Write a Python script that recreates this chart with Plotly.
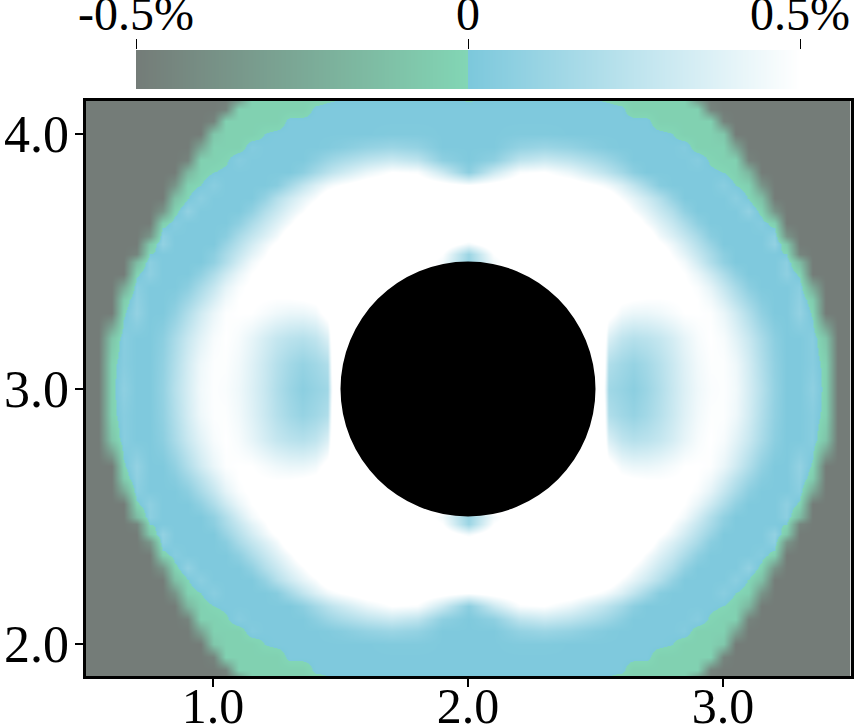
import plotly.graph_objects as go

# offsets from the centre of the ring, one quadrant (picture is mirrored both ways)
dx = [0, .1, .2, .3, .4, .5, .53, .55, .6, .65, .7, .75, .8, .85, .9, .95, 1.0, 1.05, 1.1, 1.15, 1.2, 1.25, 1.3, 1.35, 1.4, 1.45, 1.5]
dy = [0, .1, .2, .3, .35, .4, .45, .5, .53, .57, .6, .65, .7, .75, .8, .85, .9, .95, 1.0, 1.05, 1.1, 1.15]

# percent deviation, one list per dy
row_000 = [.6, .6, .6, .6, .6, .6, .55, .14, .1, .06, .12, .2, .29, .37, .44, .48, .49, .45, .34, .22, .09, .012, .012, .07, -.03, -.5, -.5]
row_010 = [.6, .6, .6, .6, .6, .6, .6, .2, .14, .1, .15, .22, .3, .38, .45, .49, .49, .44, .33, .2, .08, .012, .012, .045, -.03, -.5, -.5]
row_020 = [.6, .6, .6, .6, .6, .6, .6, .36, .26, .22, .24, .28, .34, .41, .47, .5, .47, .39, .29, .17, .06, .012, .012, .047, -.1, -.5, -.5]
row_030 = [.6, .6, .6, .6, .6, .6, .6, .55, .45, .42, .42, .44, .47, .5, .5, .49, .42, .32, .2, .08, .012, .012, .09, -.015, -.5, -.5, -.5]
row_035 = [.6, .6, .6, .6, .6, .6, .6, .58, .52, .5, .49, .49, .5, .51, .5, .45, .35, .24, .13, .04, .012, .012, .076, -.06, -.5, -.5, -.5]
row_040 = [.6, .6, .6, .6, .6, .6, .6, .6, .6, .58, .56, .55, .55, .52, .48, .4, .28, .17, .06, .012, .012, .012, .055, -.25, -.5, -.5, -.5]
row_045 = [.6, .6, .6, .6, .6, .6, .6, .6, .6, .6, .6, .6, .55, .5, .42, .31, .19, .08, .012, .012, .012, .07, -.02, -.5, -.5, -.5, -.5]
row_050 = [.1, .45, .6, .6, .6, .6, .6, .6, .6, .6, .6, .6, .52, .45, .33, .2, .08, .012, .012, .012, .012, .064, -.15, -.5, -.5, -.5, -.5]
row_053 = [.12, .5, .6, .6, .6, .6, .6, .6, .6, .6, .6, .6, .48, .39, .28, .17, .06, .012, .012, .012, .012, .001, -.45, -.5, -.5, -.5, -.5]
row_057 = [.45, .6, .6, .6, .6, .6, .6, .6, .6, .6, .6, .52, .43, .33, .22, .11, .012, .012, .012, .012, .087, -.08, -.5, -.5, -.5, -.5, -.5]
row_060 = [.6, .6, .6, .6, .6, .6, .6, .6, .6, .6, .6, .45, .36, .27, .17, .05, .012, .012, .012, .012, .069, -.364, -.5, -.5, -.5, -.5, -.5]
row_065 = [.6, .6, .6, .6, .6, .6, .6, .6, .6, .6, .47, .37, .28, .18, .07, .012, .012, .012, .012, .038, -.041, -.5, -.5, -.5, -.5, -.5, -.5]
row_070 = [.6, .6, .6, .6, .6, .6, .6, .6, .6, .48, .39, .29, .2, .08, .012, .012, .012, .012, .085, -.03, -.364, -.5, -.5, -.5, -.5, -.5, -.5]
row_075 = [.6, .6, .6, .6, .6, .6, .6, .6, .48, .4, .31, .21, .09, .012, .012, .012, .012, .058, -.005, -.129, -.5, -.5, -.5, -.5, -.5, -.5, -.5]
row_080 = [.5, .55, .6, .6, .58, .5, .47, .44, .36, .26, .15, .04, .012, .012, .012, .012, .05, -.001, -.03, -.364, -.5, -.5, -.5, -.5, -.5, -.5, -.5]
row_085 = [.06, .3, .48, .5, .42, .3, .26, .23, .15, .06, .012, .012, .012, .012, .012, .012, -.001, -.03, -.176, -.5, -.5, -.5, -.5, -.5, -.5, -.5, -.5]
row_090 = [.012, .07, .25, .3, .25, .17, .14, .12, .06, .012, .012, .012, .012, .012, .04, -.01, -.03, -.03, -.458, -.5, -.5, -.5, -.5, -.5, -.5, -.5, -.5]
row_095 = [.012, .012, .09, .12, .09, .04, .03, .02, .012, .012, .012, .012, .012, .03, -.03, -.03, -.03, -.27, -.5, -.5, -.5, -.5, -.5, -.5, -.5, -.5, -.5]
row_100 = [.012, .012, .02, .02, .012, .012, .012, .012, .012, .012, .012, .012, .001, -.03, -.03, -.03, -.082, -.5, -.5, -.5, -.5, -.5, -.5, -.5, -.5, -.5, -.5]
row_105 = [.012, .012, .012, .012, .012, .012, .012, .012, .012, .012, .013, -.03, -.03, -.03, -.03, -.03, -.458, -.5, -.5, -.5, -.5, -.5, -.5, -.5, -.5, -.5, -.5]
row_110 = [.012, .012, .012, .012, .012, .012, .012, .012, .01, -.03, -.03, -.03, -.03, -.03, -.03, -.458, -.5, -.5, -.5, -.5, -.5, -.5, -.5, -.5, -.5, -.5, -.5]
row_115 = [-.008, -.004, -.004, -.004, -.004, -.005, -.008, -.012, -.03, -.03, -.03, -.03, -.03, -.03, -.458, -.5, -.5, -.5, -.5, -.5, -.5, -.5, -.5, -.5, -.5, -.5, -.5]

quadrant = [row_000, row_010, row_020, row_030, row_035, row_040, row_045, row_050, row_053, row_057, row_060, row_065,
            row_070, row_075, row_080, row_085, row_090, row_095, row_100, row_105, row_110, row_115]

bar_values = [-.5, -.25, -.001, .001, .25, .5]
bar_ticks = [-.5, 0, .5]
bar_labels = ["-0.5%", "0", "0.5%"]
axis_ticks_x = [1, 2, 3]
axis_ticks_y = [2, 3, 4]
axis_labels_x = ["1.0", "2.0", "3.0"]
axis_labels_y = ["2.0", "3.0", "4.0"]

cx, cy = 2.0, 3.0
hole = 0.5

# mirror the quadrant into the full field
xs = [cx - d for d in dx[:0:-1]] + [cx + d for d in dx]
ys = [cy - d for d in dy[:0:-1]] + [cy + d for d in dy]
half = [r[:0:-1] + r for r in quadrant]
field = half[:0:-1] + half

scale = [[0, "#747c78"], [.5, "#82d6b5"], [.5, "#7cc8dc"], [1, "#ffffff"]]
W, H = 856, 728

fig = go.Figure()
fig.add_trace(go.Heatmap(x=xs, y=ys, z=field, zmin=-.5, zmax=.5, colorscale=scale,
                         zsmooth="best", showscale=False, hoverinfo="skip"))
fig.add_trace(go.Heatmap(x=bar_values, y=[0, 1], z=[bar_values, bar_values], zmin=-.5, zmax=.5,
                         colorscale=scale, zsmooth="best", showscale=False, hoverinfo="skip",
                         xaxis="x2", yaxis="y2"))
fig.add_shape(type="circle", xref="x", yref="y", x0=cx - hole, x1=cx + hole, y0=cy - hole, y1=cy + hole,
              fillcolor="black", line_width=0)

font = dict(family="Liberation Serif", color="black")
fig.update_layout(
    template="none",
    width=W, height=H,
    margin=dict(l=0, r=0, t=0, b=0),
    paper_bgcolor="white",
    plot_bgcolor="white",
    showlegend=False,
    xaxis=dict(domain=[85.5 / W, 850.5 / W], range=[.5, 3.5], tickvals=axis_ticks_x, ticktext=axis_labels_x,
               ticks="outside", ticklen=8, tickwidth=2, tickcolor="black", tickfont=dict(size=50, **font),
               ticklabelstandoff=-24, showline=True, linewidth=3, linecolor="black", mirror=True,
               showgrid=False, zeroline=False, automargin=False),
    yaxis=dict(domain=[1 - 676 / H, 1 - 101 / H], range=[3 - 287 / 255, 3 + 288 / 255], tickvals=axis_ticks_y,
               ticktext=axis_labels_y, ticks="outside", ticklen=8, tickwidth=2, tickcolor="black",
               tickfont=dict(size=52, **font), ticklabelstandoff=-5, showline=True, linewidth=3,
               linecolor="black", mirror=True, showgrid=False, zeroline=False, automargin=False),
    xaxis2=dict(domain=[136 / W, 800 / W], range=[-.5, .5], anchor="y2", side="top", tickvals=bar_ticks,
                ticktext=bar_labels, ticks="outside", ticklen=10, tickwidth=1, tickcolor="black",
                tickfont=dict(size=48, **font), ticklabelstandoff=-10, showgrid=False, zeroline=False,
                automargin=False),
    yaxis2=dict(domain=[1 - 89 / H, 1 - 50 / H], range=[0, 1], anchor="x2", visible=False),
)
fig.write_html("out.html", config={"displayModeBar": False}, post_script="document.body.style.margin='0';")
